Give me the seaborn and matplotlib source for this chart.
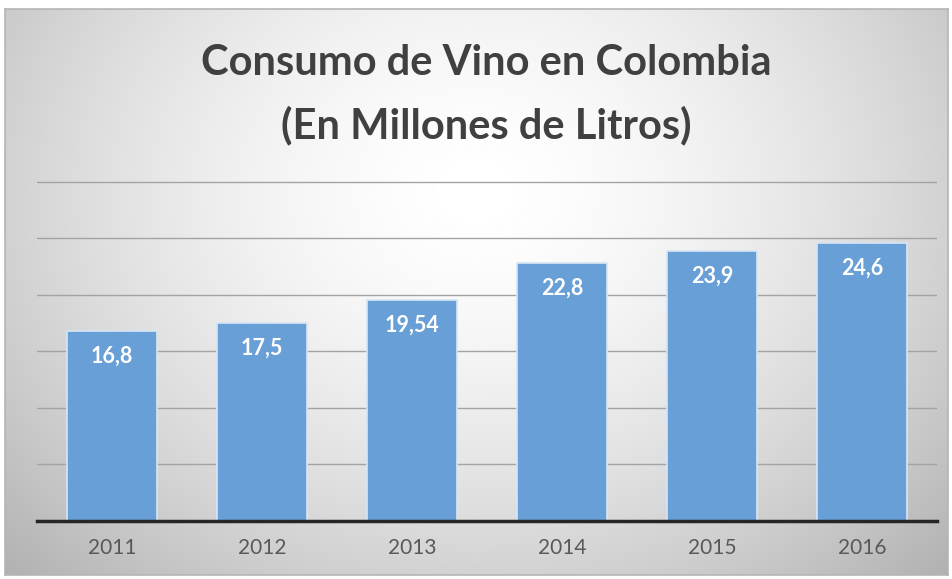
import numpy as np
import pandas as pd
import matplotlib
matplotlib.use('Agg')
import matplotlib.pyplot as plt
import seaborn as sns

# data
years = ['2011', '2012', '2013', '2014', '2015', '2016']
consumo = [16.8, 17.5, 19.54, 22.8, 23.9, 24.6]
etiquetas = ['16,8', '17,5', '19,54', '22,8', '23,9', '24,6']

df = pd.DataFrame({'Año': years, 'Consumo': consumo})

sns.set_style('white')
plt.rcParams['font.family'] = ['Lato', 'DejaVu Sans']

W, H = 953, 579
fig = plt.figure(figsize=(W / 100, H / 100), dpi=100)
fig.patch.set_facecolor('white')

# radial grey gradient background of the chart area
bg = fig.add_axes([5 / W, 4 / H, 943 / W, 566 / H])
yy, xx = np.mgrid[0:1:300j, 0:1:500j]
r = np.sqrt(((xx - 0.5) / 0.62) ** 2 + ((yy - 0.32) / 0.85) ** 2)
shade = 1.0 - 0.25 * np.clip(r, 0, 1.2) ** 1.6
bg.imshow(shade, cmap='gray', vmin=0, vmax=1, extent=[0, 1, 0, 1],
          aspect='auto', origin='upper', interpolation='bicubic')
bg.set_xticks([])
bg.set_yticks([])
for s in bg.spines.values():
    s.set_color('#b5b5b5')
    s.set_linewidth(1.2)

# plot area
ax = fig.add_axes([37 / W, (H - 521) / H, 900 / W, 341 / H])
ax.patch.set_alpha(0)
sns.barplot(data=df, x='Año', y='Consumo', color='#5b9bd5', width=0.6,
            saturation=1, edgecolor='#d6e6f5', linewidth=1.2, ax=ax, zorder=3)
for p in ax.patches:
    p.set_facecolor('#679fd6')

ax.set_ylim(0, 30.15)
ax.set_xlim(-0.5, 5.5)
ax.set_yticks([5, 10, 15, 20, 25, 30])
ax.yaxis.grid(True, color='#a3a3a3', linewidth=1.0, zorder=0)
ax.set_axisbelow(True)
ax.tick_params(axis='y', left=False, labelleft=False)
ax.tick_params(axis='x', bottom=False, labelsize=15, labelcolor='#595959', pad=9)
ax.set_xlabel('')
ax.set_ylabel('')
for side in ['top', 'left', 'right']:
    ax.spines[side].set_visible(False)
ax.spines['bottom'].set_color('#262626')
ax.spines['bottom'].set_linewidth(2.5)
ax.spines['bottom'].set_zorder(4)

for i, (v, lab) in enumerate(zip(consumo, etiquetas)):
    ax.text(i, v - 2.25, lab, ha='center', va='center', color='white',
            fontsize=15.5, fontweight='bold', zorder=5)

fig.text(486 / W, 1 - 63 / H, 'Consumo de Vino en Colombia', ha='center',
         va='center', fontsize=30, fontweight='bold', color='#404040')
fig.text(486 / W, 1 - 125 / H, '(En Millones de Litros)', ha='center',
         va='center', fontsize=30, fontweight='bold', color='#404040')

fig.savefig('out.png', dpi=100)
